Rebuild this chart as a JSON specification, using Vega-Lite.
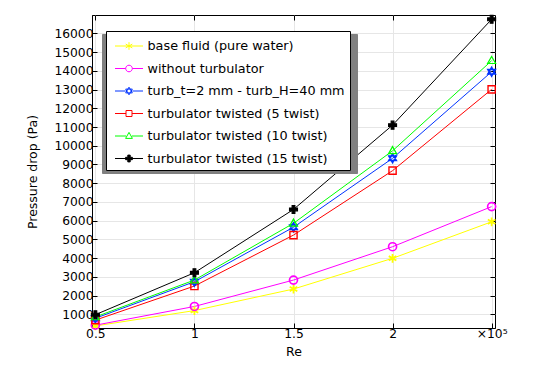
{
  "$schema": "https://vega.github.io/schema/vega-lite/v6.json",
  "width": 403,
  "height": 313,
  "autosize": "none",
  "padding": {"left": 92, "top": 15, "right": 41, "bottom": 44},
  "background": "white",
  "config": {
    "font": "DejaVu Sans",
    "view": {"stroke": "black", "strokeWidth": 1},
    "axis": {
      "labelFont": "DejaVu Sans",
      "labelFontSize": 12.3,
      "labelColor": "black",
      "titleFont": "DejaVu Sans",
      "titleFontSize": 12.5,
      "titleFontWeight": "normal",
      "titleColor": "black",
      "tickColor": "black",
      "domainColor": "black",
      "gridColor": "#e6e6e6",
      "gridWidth": 1,
      "tickSize": -5,
      "labelPadding": 4
    },
    "legend": {
      "labelFont": "DejaVu Sans",
      "labelFontSize": 12.8,
      "labelColor": "black",
      "labelLimit": 400,
      "strokeColor": "black",
      "fillColor": "white",
      "cornerRadius": 0,
      "padding": 4.5,
      "rowPadding": 4.5,
      "symbolSize": 400,
      "symbolStrokeWidth": 1,
      "symbolOffset": 8,
      "labelOffset": 8
    }
  },
  "data": {
    "values": [
      {"s": "base fluid (pure water)", "Re": 0.5, "dp": 380},
      {"s": "base fluid (pure water)", "Re": 1.0, "dp": 1200},
      {"s": "base fluid (pure water)", "Re": 1.5, "dp": 2350},
      {"s": "base fluid (pure water)", "Re": 2.0, "dp": 3990},
      {"s": "base fluid (pure water)", "Re": 2.5, "dp": 5940},
      {"s": "without turbulator", "Re": 0.5, "dp": 420},
      {"s": "without turbulator", "Re": 1.0, "dp": 1420},
      {"s": "without turbulator", "Re": 1.5, "dp": 2830},
      {"s": "without turbulator", "Re": 2.0, "dp": 4610},
      {"s": "without turbulator", "Re": 2.5, "dp": 6750},
      {"s": "turb_t=2 mm - turb_H=40 mm", "Re": 0.5, "dp": 790},
      {"s": "turb_t=2 mm - turb_H=40 mm", "Re": 1.0, "dp": 2740},
      {"s": "turb_t=2 mm - turb_H=40 mm", "Re": 1.5, "dp": 5650},
      {"s": "turb_t=2 mm - turb_H=40 mm", "Re": 2.0, "dp": 9330},
      {"s": "turb_t=2 mm - turb_H=40 mm", "Re": 2.5, "dp": 13950},
      {"s": "turbulator twisted (5 twist)", "Re": 0.5, "dp": 690},
      {"s": "turbulator twisted (5 twist)", "Re": 1.0, "dp": 2510},
      {"s": "turbulator twisted (5 twist)", "Re": 1.5, "dp": 5230},
      {"s": "turbulator twisted (5 twist)", "Re": 2.0, "dp": 8670},
      {"s": "turbulator twisted (5 twist)", "Re": 2.5, "dp": 13010},
      {"s": "turbulator twisted (10 twist)", "Re": 0.5, "dp": 860},
      {"s": "turbulator twisted (10 twist)", "Re": 1.0, "dp": 2830},
      {"s": "turbulator twisted (10 twist)", "Re": 1.5, "dp": 5860},
      {"s": "turbulator twisted (10 twist)", "Re": 2.0, "dp": 9730},
      {"s": "turbulator twisted (10 twist)", "Re": 2.5, "dp": 14540},
      {"s": "turbulator twisted (15 twist)", "Re": 0.5, "dp": 980},
      {"s": "turbulator twisted (15 twist)", "Re": 1.0, "dp": 3220},
      {"s": "turbulator twisted (15 twist)", "Re": 1.5, "dp": 6600},
      {"s": "turbulator twisted (15 twist)", "Re": 2.0, "dp": 11100},
      {"s": "turbulator twisted (15 twist)", "Re": 2.5, "dp": 16750}
    ]
  },
  "layer": [
    {
      "mark": {"type": "line", "strokeWidth": 1},
      "encoding": {
        "x": {
          "field": "Re", "type": "quantitative",
          "scale": {"domain": [0.483, 2.517], "nice": false, "zero": false},
          "axis": {
            "orient": "bottom", "title": "Re", "values": [0.5, 1, 1.5, 2, 2.5],
            "grid": true, "titlePadding": 6,
            "labelExpr": "datum.value == 2.5 ? '×10⁵' : format(datum.value, '~g')"
          }
        },
        "y": {
          "field": "dp", "type": "quantitative",
          "scale": {"domain": [270, 16980], "nice": false, "zero": false},
          "axis": {
            "orient": "left", "title": "Pressure drop (Pa)",
            "values": [1000, 2000, 3000, 4000, 5000, 6000, 7000, 8000, 9000, 10000, 11000, 12000, 13000, 14000, 15000, 16000],
            "format": "d", "grid": true, "titlePadding": 14
          }
        },
        "stroke": {
          "field": "s", "type": "nominal", "legend": null,
          "scale": {
            "domain": ["base fluid (pure water)", "without turbulator", "turb_t=2 mm - turb_H=40 mm", "turbulator twisted (5 twist)", "turbulator twisted (10 twist)", "turbulator twisted (15 twist)"],
            "range": ["#ffff00", "#ff00ff", "#0033ff", "#ff0000", "#00ff00", "#000000"]
          }
        }
      }
    },
    {
      "mark": {"type": "point", "size": 64, "opacity": 1},
      "encoding": {
        "x": {
          "field": "Re", "type": "quantitative",
          "axis": {"orient": "top", "title": null, "labels": false, "grid": false, "domain": false, "values": [0.5, 1, 1.5, 2, 2.5]}
        },
        "y": {
          "field": "dp", "type": "quantitative",
          "axis": {"orient": "right", "title": null, "labels": false, "grid": false, "domain": false,
            "values": [1000, 2000, 3000, 4000, 5000, 6000, 7000, 8000, 9000, 10000, 11000, 12000, 13000, 14000, 15000, 16000]}
        },
        "shape": {
          "field": "s", "type": "nominal", "legend": null,
          "scale": {
            "domain": ["base fluid (pure water)", "without turbulator", "turb_t=2 mm - turb_H=40 mm", "turbulator twisted (5 twist)", "turbulator twisted (10 twist)", "turbulator twisted (15 twist)"],
            "range": [
              "M0,-1.1V1.1M-0.95,-0.55L0.95,0.55M-0.95,0.55L0.95,-0.55",
              "M-1,0A1,1 0 1,0 1,0A1,1 0 1,0 -1,0Z",
              "M0,-1.1L0.95,0.55H-0.95ZM0,1.1L0.95,-0.55H-0.95Z",
              "M-0.9,-0.9H0.9V0.9H-0.9Z",
              "M0,-1.05L1,0.7H-1Z",
              "M-0.35,-1H0.35V-0.35H1V0.35H0.35V1H-0.35V0.35H-1V-0.35H-0.35Z"
            ]
          }
        },
        "strokeWidth": {
          "field": "s", "type": "nominal", "legend": null,
          "scale": {
            "domain": ["base fluid (pure water)", "without turbulator", "turb_t=2 mm - turb_H=40 mm", "turbulator twisted (5 twist)", "turbulator twisted (10 twist)", "turbulator twisted (15 twist)"],
            "range": [1.8, 1.1, 1.1, 1.1, 1.1, 1]
          }
        },
        "stroke": {
          "field": "s", "type": "nominal", "legend": null,
          "scale": {
            "domain": ["base fluid (pure water)", "without turbulator", "turb_t=2 mm - turb_H=40 mm", "turbulator twisted (5 twist)", "turbulator twisted (10 twist)", "turbulator twisted (15 twist)"],
            "range": ["#ffff00", "#ff00ff", "#0033ff", "#ff0000", "#00ff00", "#000000"]
          }
        },
        "fill": {
          "field": "s", "type": "nominal", "legend": null,
          "scale": {
            "domain": ["base fluid (pure water)", "without turbulator", "turb_t=2 mm - turb_H=40 mm", "turbulator twisted (5 twist)", "turbulator twisted (10 twist)", "turbulator twisted (15 twist)"],
            "range": ["transparent", "transparent", "transparent", "transparent", "transparent", "#000000"]
          }
        }
      }
    },
    {
      "transform": [{"filter": "false"}],
      "mark": {"type": "point", "size": 400, "strokeWidth": 1, "opacity": 1},
      "encoding": {
        "x": {"field": "Re", "type": "quantitative", "axis": null},
        "y": {"field": "dp", "type": "quantitative", "axis": null},
        "shape": {
          "field": "s", "type": "nominal",
          "legend": {"title": null, "orient": "none", "legendX": 10, "legendY": 19, "fillColor": "#808080", "strokeColor": "#808080", "symbolOpacity": 0, "labelExpr": "''", "labelOffset": 217},
          "scale": {
            "domain": ["base fluid (pure water)", "without turbulator", "turb_t=2 mm - turb_H=40 mm", "turbulator twisted (5 twist)", "turbulator twisted (10 twist)", "turbulator twisted (15 twist)"],
            "range": [
              "M-1.4,0H1.4",
              "M-1.4,0H1.4",
              "M-1.4,0H1.4",
              "M-1.4,0H1.4",
              "M-1.4,0H1.4",
              "M-1.4,0H1.4"
            ]
          }
        }
      }
    },
    {
      "transform": [{"filter": "false"}],
      "mark": {"type": "point", "size": 400, "strokeWidth": 1, "opacity": 1},
      "encoding": {
        "x": {"field": "Re", "type": "quantitative", "axis": null},
        "y": {"field": "dp", "type": "quantitative", "axis": null},
        "shape": {
          "field": "s", "type": "nominal",
          "legend": {"title": null, "orient": "none", "legendX": 14, "legendY": 16},
          "scale": {
            "domain": ["base fluid (pure water)", "without turbulator", "turb_t=2 mm - turb_H=40 mm", "turbulator twisted (5 twist)", "turbulator twisted (10 twist)", "turbulator twisted (15 twist)"],
            "range": [
              "M-1.4,0H1.4M0,-0.38V0.38M-0.33,-0.19L0.33,0.19M-0.33,0.19L0.33,-0.19",
              "M-1.4,0H-0.33M0.33,0H1.4M-0.33,0A0.33,0.33 0 1,0 0.33,0A0.33,0.33 0 1,0 -0.33,0Z",
              "M-1.4,0H-0.33M0.33,0H1.4M0,-0.38L0.33,0.19H-0.33ZM0,0.38L0.33,-0.19H-0.33Z",
              "M-1.4,0H-0.3M0.3,0H1.4M-0.3,-0.3H0.3V0.3H-0.3Z",
              "M-1.4,0H-0.3M0.3,0H1.4M0,-0.36L0.34,0.24H-0.34Z",
              "M-1.4,0H1.4M-0.12,-0.34H0.12V-0.12H0.34V0.12H0.12V0.34H-0.12V0.12H-0.34V-0.12H-0.12Z"
            ]
          }
        },
        "stroke": {
          "field": "s", "type": "nominal",
          "legend": {"title": null, "orient": "none", "legendX": 14, "legendY": 16},
          "scale": {
            "domain": ["base fluid (pure water)", "without turbulator", "turb_t=2 mm - turb_H=40 mm", "turbulator twisted (5 twist)", "turbulator twisted (10 twist)", "turbulator twisted (15 twist)"],
            "range": ["#ffff00", "#ff00ff", "#0033ff", "#ff0000", "#00ff00", "#000000"]
          }
        },
        "fill": {
          "field": "s", "type": "nominal",
          "legend": {"title": null, "orient": "none", "legendX": 14, "legendY": 16},
          "scale": {
            "domain": ["base fluid (pure water)", "without turbulator", "turb_t=2 mm - turb_H=40 mm", "turbulator twisted (5 twist)", "turbulator twisted (10 twist)", "turbulator twisted (15 twist)"],
            "range": ["transparent", "transparent", "transparent", "transparent", "transparent", "#000000"]
          }
        }
      }
    }
  ],
  "resolve": {
    "scale": {"shape": "independent", "stroke": "independent", "fill": "independent", "strokeWidth": "independent"},
    "legend": {"shape": "independent", "stroke": "independent", "fill": "independent"},
    "axis": {"x": "independent", "y": "independent"}
  }
}
